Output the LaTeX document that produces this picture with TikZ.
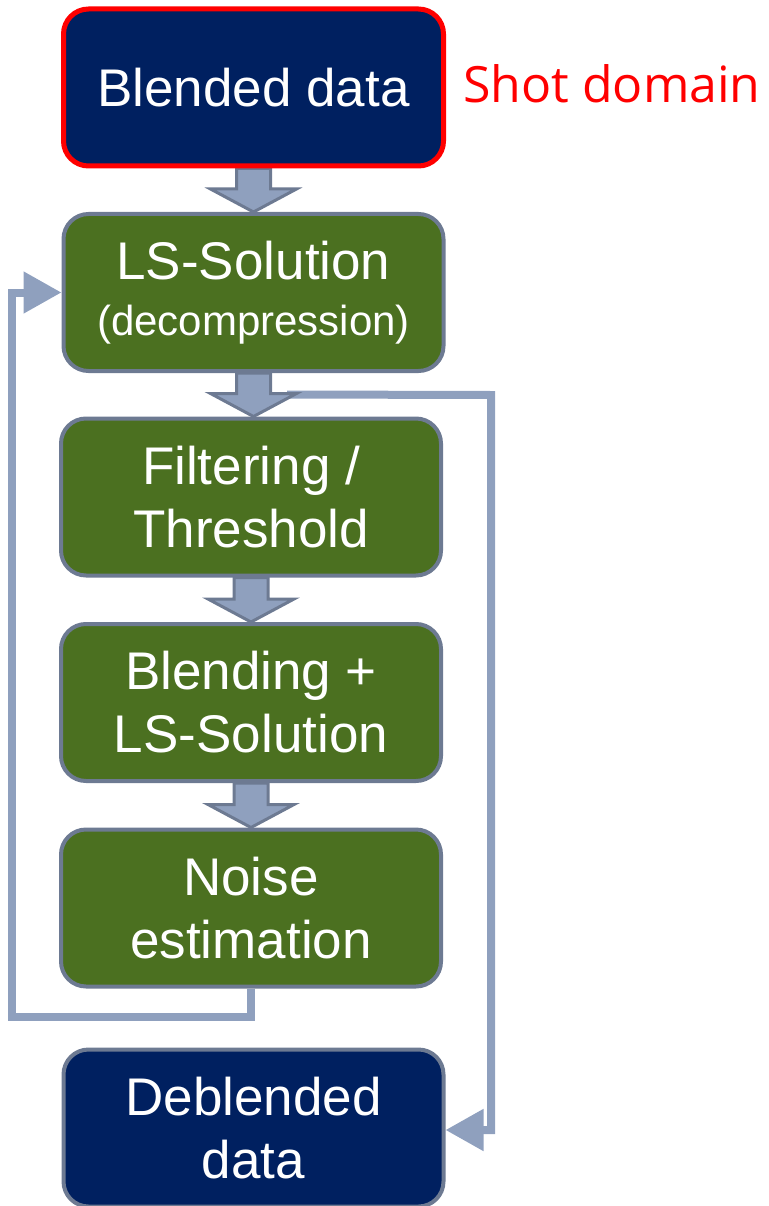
\documentclass[tikz,border=0pt]{standalone}
\usepackage{fontspec}
\setmainfont{Liberation Sans}
\newfontfamily\labelfont{Open Sans}
\usetikzlibrary{arrows.meta,calc,backgrounds}

\definecolor{navyfill}{RGB}{0,32,96}
\definecolor{stepgreen}{RGB}{75,112,32}
\definecolor{edgegray}{RGB}{109,122,146}
\definecolor{flowblue}{RGB}{143,160,190}
\definecolor{domainred}{RGB}{255,0,0}

\tikzset{
  box/.style={rectangle, rounded corners=25pt, minimum width=380pt,
    minimum height=157pt, line width=4pt, draw=edgegray, text=white,
    align=center, inner sep=0pt},
  navybox/.style={box, fill=navyfill},
  greenbox/.style={box, fill=stepgreen},
  big/.style={font=\fontsize{53}{63}\selectfont},
  loopline/.style={draw=flowblue, line width=8pt},
  looptip/.style={-{Triangle[length=38pt,width=40pt]}},
  blockarrow/.style={fill=flowblue, draw=edgegray, line width=3pt, line join=miter},
}

% block arrow from the bottom of one box to the top of the next
\newcommand\flowarrow[2]{%
  \path[blockarrow] let \p1=(#1.south), \p2=(#2.north) in
    (\x1-17pt,\y1) -- (\x1-17pt,\y2+23pt) -- (\x1-43pt,\y2+23pt) --
    (\x1,\y2) -- (\x1+43pt,\y2+23pt) -- (\x1+17pt,\y2+23pt) --
    (\x1+17pt,\y1) -- cycle;}

\begin{document}
\begin{tikzpicture}[x=1pt,y=-1pt]
\useasboundingbox (0,0) rectangle (768,1206);

% processing steps
\node[navybox, big, draw=domainred, line width=5pt] (blended) at (253.5,87.5) {Blended data};
\node[greenbox, font=\fontsize{42}{56}\selectfont] (ls) at (253.5,292.5)
   {{\fontsize{53}{56}\selectfont LS-Solution}\\(decompression)};
\node[greenbox, big] (filter) at (251,497) {Filtering /\\Threshold};
\node[greenbox, big] (blendls) at (251,702.5) {Blending +\\LS-Solution};
\node[greenbox, big] (noise) at (251,908) {Noise\\estimation};
\node[navybox, big] (deblended) at (253.5,1128) {Deblended\\data};

\node[anchor=base west, text=domainred, font=\labelfont\fontsize{50}{60}\selectfont, inner sep=0pt]
  (domain) at (463,103) {Shot domain};

\begin{scope}[on background layer]
  % loop from the LS solution to the deblended output
  \coordinate (split) at ($(filter.north)+(36,-22)$);
  \draw[loopline, looptip] (split) -- (491,395) -- (491,1130) -- (deblended.east |- 0,1130);

  % feedback from noise estimation back to the LS solution
  \draw[loopline, looptip] (noise.south) -- (noise.south |- 0,1017) -- (12,1017)
     -- (12,292.5) -- (ls.west);

  % block arrows between successive steps
  \flowarrow{blended}{ls}
  \flowarrow{ls}{filter}
  \flowarrow{filter}{blendls}
  \flowarrow{blendls}{noise}
\end{scope}
\end{tikzpicture}
\end{document}
